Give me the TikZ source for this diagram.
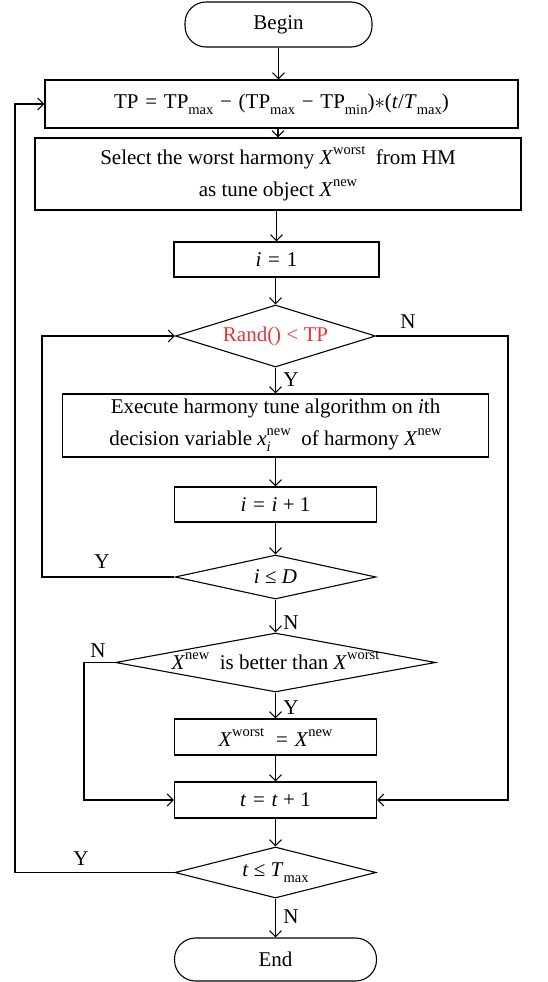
\documentclass[tikz,border=0pt]{standalone}
\usepackage{fontspec}
\setmainfont{Liberation Serif}
\usetikzlibrary{arrows.meta,shapes.geometric}
\definecolor{randred}{RGB}{236,52,56}
\newcommand\Sup[1]{\raisebox{0.48em}{\fontsize{14.5}{14.5}\selectfont #1}}
\newcommand\Sub[1]{\raisebox{-0.3em}{\fontsize{14.5}{14.5}\selectfont #1}}
\newcommand\opsp{\hspace{0.32em}}
\begin{document}
\begin{tikzpicture}[x=1pt,y=-1pt, line width=1.1pt,
  font=\fontsize{21}{32}\selectfont,
  box/.style={draw, rectangle, inner sep=0pt},
  term/.style={draw, rectangle, rounded corners=21pt, inner sep=0pt},
  dia/.style={draw, diamond, inner sep=0pt},
  arr/.style={-{Straight Barb[length=6pt,width=12pt]}},
  lab/.style={inner sep=0pt}]
\useasboundingbox (0,0) rectangle (548,982);

\node[term, minimum width=187pt, minimum height=45pt] (begin) at (278.5,24.5) {Begin};
\node[box, minimum width=473pt, minimum height=48pt] (tp) at (281.5,104)
  {TP\opsp=\opsp TP\Sub{max}\opsp−\opsp(TP\Sub{max}\opsp−\opsp TP\Sub{min})$\ast$(\textit{t}/\textit{T}\Sub{max})};
\node[box, minimum width=486pt, minimum height=72pt, align=center] (sel) at (278,174)
  {Select the worst harmony \textit{X}\Sup{worst}\ \ from HM\\as tune object \textit{X}\Sup{new}};
\node[box, minimum width=205pt, minimum height=35pt] (i1) at (276.5,259.5) {\textit{i}\opsp=\opsp 1};
\node[dia, minimum width=200pt, minimum height=62pt] (rand) at (275.5,336) {};
\node[lab, text=randred] (randt) at (rand) {Rand() < TP};
\node[box, minimum width=426pt, minimum height=63pt, align=center] (exec) at (275.5,425.5)
  {Execute harmony tune algorithm on \textit{i}th\\decision variable \textit{x}\rlap{\Sub{\textit{i}}}\Sup{new}\ \ of harmony \textit{X}\Sup{new}};
\node[box, minimum width=202pt, minimum height=35pt] (inc) at (275.5,504.5) {\textit{i}\opsp=\opsp\textit{i} + 1};
\node[dia, minimum width=201pt, minimum height=44pt] (dD) at (275.5,577) {};
\node[lab] (dDt) at (dD) {\textit{i} ≤ \textit{D}};
\node[dia, minimum width=320pt, minimum height=59pt] (better) at (275.5,662.5) {};
\node[lab] (bettert) at ([yshift=2pt]better) {\textit{X}\Sup{new}\ \ is better than \textit{X}\Sup{worst}};
\node[box, minimum width=202pt, minimum height=36pt] (xw) at (275.5,737) {\textit{X}\Sup{worst}\opsp\ =\opsp\textit{X}\Sup{new}};
\node[box, minimum width=202pt, minimum height=36pt] (tt) at (275.5,800) {\textit{t}\opsp=\opsp\textit{t} + 1};
\node[dia, minimum width=201pt, minimum height=51pt] (dT) at (275.5,872.5) {};
\node[lab] (dTt) at (dT) {\textit{t} ≤ \textit{T}\Sub{max}};
\node[term, minimum width=202pt, minimum height=43pt] (end) at (275.5,959.5) {End};

\coordinate (oL) at (15,0);
\coordinate (iL) at (42,0);
\coordinate (bL) at (84,0);
\coordinate (rR) at (508,0);

\draw[arr] (begin.south) -- (begin.south |- tp.north);
\draw[arr] (sel.north |- tp.south) -- (sel.north);
\draw[arr] (i1.north |- sel.south) -- (i1.north);
\draw[arr] (rand.north |- i1.south) -- (rand.north);
\draw[arr] (rand.south) -- (exec.north);
\draw[arr] (exec.south) -- (inc.north);
\draw[arr] (inc.south) -- (dD.north);
\draw[arr] (dD.south) -- (better.north);
\draw[arr] (better.south) -- (xw.north);
\draw[arr] (xw.south) -- (tt.north);
\draw[arr] (tt.south) -- (dT.north);
\draw[arr] (dT.south) -- (end.north);
\draw[arr] (dT.west) -- (dT.west -| oL) |- (tp.west);
\draw[arr] (dD.west) -- (dD.west -| iL) |- (rand.west);
\draw[arr] (better.west) -- (better.west -| bL) |- (tt.west);
\draw[arr] (rand.east) -- (rand.east -| rR) |- (tt.east);

\node[lab] (nR) at (408,322) {N};
\node[lab] (yR) at (291,380) {Y};
\node[lab] (yD) at (102,562) {Y};
\node[lab] (nD) at (291,623) {N};
\node[lab] (nB) at (98,651) {N};
\node[lab] (yB) at (291,708) {Y};
\node[lab] (yT) at (81,859) {Y};
\node[lab] (nT) at (291,917) {N};
\end{tikzpicture}
\end{document}
